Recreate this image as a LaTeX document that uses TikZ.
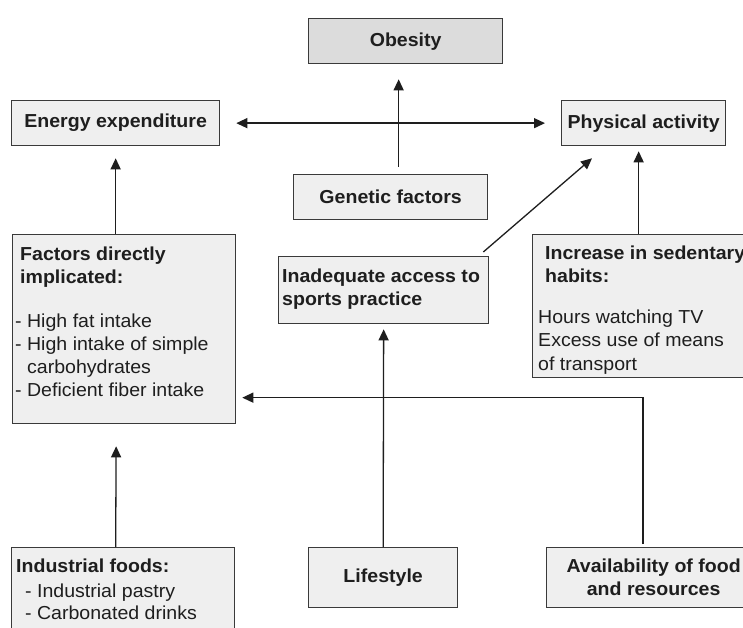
\documentclass[tikz,border=0pt]{standalone}
\usepackage{fontspec}
\setmainfont{Liberation Sans}[FakeStretch=1.04]
\usetikzlibrary{arrows.meta,calc}
\definecolor{boxfill}{HTML}{EFEFEF}
\definecolor{topfill}{HTML}{DCDCDC}
\definecolor{edge}{HTML}{3A3A3A}
\definecolor{ink}{HTML}{1E1E1E}
\newcommand{\fsz}{\fontsize{18.8}{23}\selectfont}
\begin{document}
\begin{tikzpicture}[x=1pt,y=-1pt,
  box/.style={draw=edge,fill=boxfill,line width=1.3pt,anchor=north west,inner sep=0pt,
    font=\fsz\bfseries,text=ink,align=center},
  txt/.style={anchor=north west,inner sep=0pt,align=left,font=\fsz,text=ink},
  arr/.style={draw=ink,line width=1.3pt,-{Triangle[length=11pt,width=10pt]}},
  darr/.style={draw=ink,line width=1.3pt,{Triangle[length=11pt,width=10pt]}-{Triangle[length=11pt,width=10pt]}}]
\clip (0,0) rectangle (743,628);
\fill[white] (0,0) rectangle (743,628);
% boxes
\node[box,fill=topfill,minimum width=194pt,minimum height=45pt] (obesity) at (308,18) {Obesity};
\node[box,minimum width=208pt,minimum height=45pt] (energy) at (11,100) {Energy expenditure};
\node[box,minimum width=164pt,minimum height=45pt] (physical) at (561,100) {Physical activity};
\node[box,minimum width=194pt,minimum height=45pt] (genetic) at (293,174) {Genetic factors};
\node[box,minimum width=223pt,minimum height=189pt] (factors) at (12,234) {};
\node[box,minimum width=210pt,minimum height=67pt] (inadequate) at (278,256) {};
\node[box,minimum width=230pt,minimum height=143pt] (increase) at (532,234) {};
\node[box,minimum width=223pt,minimum height=100pt] (industrial) at (11,547) {};
\node[box,minimum width=149pt,minimum height=60pt] (lifestyle) at (308,547) {Lifestyle};
\node[box,minimum width=214pt,minimum height=60pt] (availability) at (546,547) {Availability of food\\and resources};
% texts in boxes
\node[txt,font=\fsz\bfseries] (factorsT) at (20,246.3) {Factors directly\\implicated:};
\node[txt] (factorsL) at (15,313.3) {- High fat intake\\- High intake of simple\\\phantom{- }carbohydrates\\- Deficient fiber intake};
\node[txt,font=\fsz\bfseries] (inadequateT) at (282,268.3) {Inadequate access to\\sports practice};
\node[txt,font=\fsz\bfseries] (increaseT) at (545,245.3) {Increase in sedentary\\habits:};
\node[txt,font={\fontsize{18.8}{23.5}\selectfont}] (increaseL) at (538,309.3) {Hours watching TV\\Excess use of means\\of transport};
\node[txt,font=\fsz\bfseries] (industrialT) at (16,558.3) {Industrial foods:};
\node[txt,font={\fontsize{18.8}{22}\selectfont}] (industrialL) at (25,583.3) {- Industrial pastry\\- Carbonated drinks};
% connector end points
\coordinate (paTip) at ($(physical.south)+(-5,5)$);
\coordinate (eeTip) at ($(energy.south)+(0,12)$);
% connectors
\draw[darr] ($(energy.east)+(16,0)$) -- ($(physical.west)+(-16,0)$);
\draw[arr] ($(genetic.north)+(8,-7)$) -- ($(obesity.south)+(-7,15)$);
\draw[arr] (eeTip |- factors.north) -- (eeTip);
\draw[arr] ($(inadequate.north east)+(-6,-4)$) -- ($(physical.south west)+(31,12)$);
\draw[arr] (paTip |- increase.north) -- (paTip);
\draw[arr] (eeTip |- industrial.north) -- ($(factors.south)+(-8,22)$);
\draw[arr] (lifestyle.north) -- ($(inadequate.south)+(0,5)$);
\draw[arr] ($(availability.north west)+(97,-3)$) |- ($(factors.east)+(6,68.5)$);
\end{tikzpicture}
\end{document}
